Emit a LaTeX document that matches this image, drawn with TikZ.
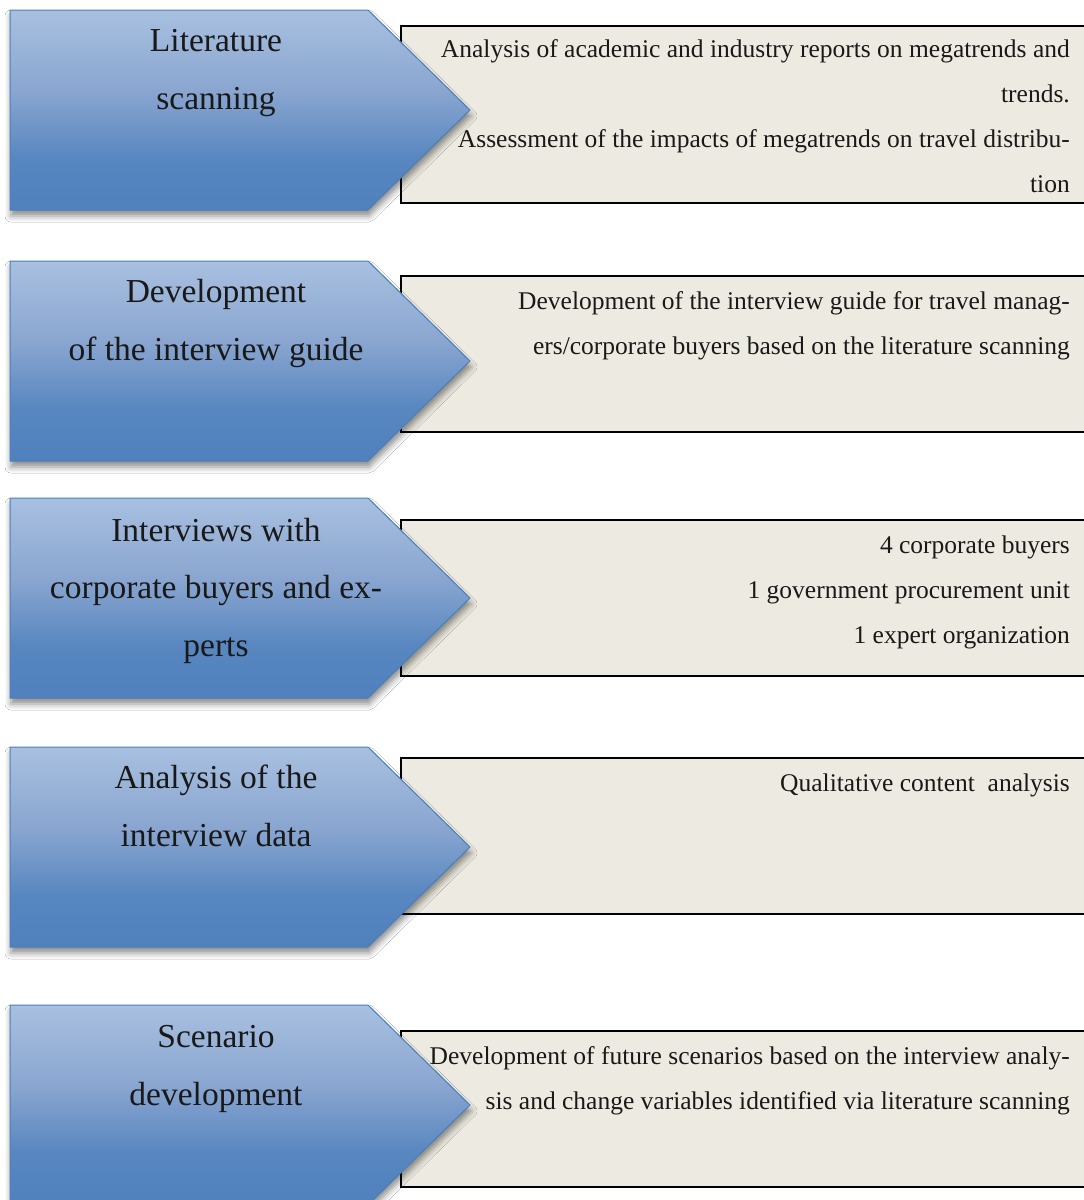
\documentclass[tikz,border=0pt]{standalone}
\usepackage{fontspec}
\setmainfont{Liberation Serif}
\usetikzlibrary{shadows.blur}

\definecolor{arrowline}{RGB}{74,126,187}
\definecolor{arrowtop}{RGB}{168,192,224}
\definecolor{arrowmid}{RGB}{138,166,208}
\definecolor{arrowbot}{RGB}{79,129,189}
\definecolor{boxfill}{RGB}{237,235,225}
\definecolor{inktext}{RGB}{25,25,25}

% light at the top, darkening towards the bottom
\pgfdeclareverticalshading{stepshade}{100bp}{%
  color(0bp)=(arrowbot); color(25bp)=(arrowbot); color(38bp)=(arrowbot!85!arrowmid);
  color(55bp)=(arrowmid); color(75bp)=(arrowtop); color(100bp)=(arrowtop)}

\tikzset{
  stepshape/.style={draw=arrowline, line width=1pt, shading=stepshade,
    blur shadow={shadow xshift=1pt, shadow yshift=-6pt, shadow blur radius=6pt, shadow opacity=45}},
  descbox/.style={draw=black, line width=1.6pt, fill=boxfill},
  % base anchor of a multi-line node sits on its last line
  steplabel/.style={anchor=base, align=center, inner sep=0pt, text=inktext,
    font=\fontsize{33.5}{57.5}\selectfont},
  desc/.style={anchor=base east, align=right, inner sep=0pt, text=inktext,
    font=\fontsize{25.5}{45}\selectfont},
}

% one process step: chevron from y=#1 (top), 200 units tall
\newcommand{\stepchevron}[1]{%
  \shade[stepshape] (10,#1) -- (368,#1) -- (470,#1+100) -- (368,#1+200) -- (10,#1+200) -- cycle;}

\begin{document}
\begin{tikzpicture}[x=1pt,y=-1pt]
\clip (0,0) rectangle (1084,1200);
\fill[white] (0,0) rectangle (1084,1200);

% description panels (open to the right)
\draw[descbox] (401,26) rectangle (1100,203);
\draw[descbox] (401,276) rectangle (1100,432);
\draw[descbox] (401,520) rectangle (1100,676);
\draw[descbox] (401,758) rectangle (1100,914);
\draw[descbox] (401,1031) rectangle (1100,1187);

% step chevrons
\stepchevron{10}
\stepchevron{261}
\stepchevron{498}
\stepchevron{747}
\stepchevron{1005}

% step titles (positions are the baselines of the last lines)
\node[steplabel] (s1) at (216,109) {Literature\\scanning};
\node[steplabel] (s2) at (216,360) {Development\\of the interview guide};
\node[steplabel] (s3) at (216,656) {Interviews with\\corporate buyers and ex-\\perts};
\node[steplabel] (s4) at (216,846) {Analysis of the\\interview data};
\node[steplabel] (s5) at (216,1105) {Scenario\\development};

% step descriptions
\node[desc] (d1) at (1070,192) {Analysis of academic and industry reports on megatrends and\\trends.\\Assessment of the impacts of megatrends on travel distribu-\\tion};
\node[desc] (d2) at (1070,354) {Development of the interview guide for travel manag-\\ers/corporate buyers based on the literature scanning};
\node[desc] (d3) at (1070,643) {4 corporate buyers\\1 government procurement unit\\1 expert organization};
\node[desc] (d4) at (1070,791) {Qualitative content\ \ analysis};
\node[desc] (d5) at (1070,1109) {Development of future scenarios based on the interview analy-\\sis and change variables identified via literature scanning};
\end{tikzpicture}
\end{document}
